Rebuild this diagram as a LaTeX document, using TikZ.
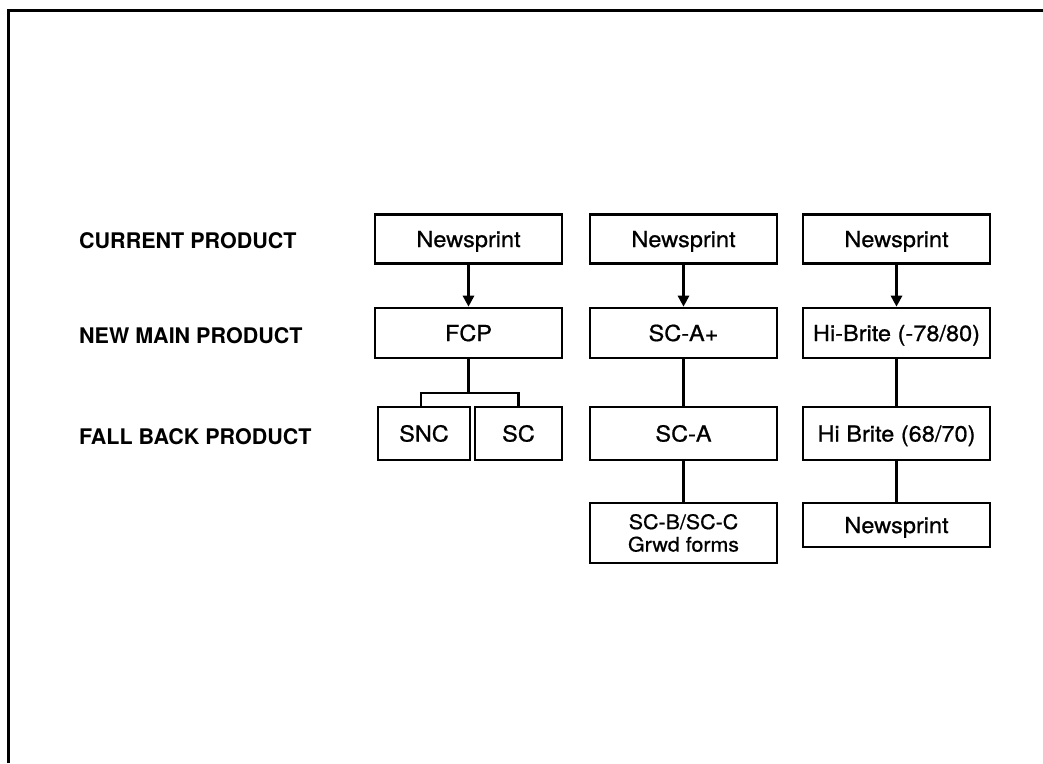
\documentclass[tikz,border=0pt]{standalone}
\usepackage{fontspec}
\setmainfont{TeX Gyre Heros}
\newfontfamily\boxfont[FakeStretch=1.07,FakeBold=0.8]{TeX Gyre Heros}
\usetikzlibrary{arrows.meta}
\begin{document}
\begin{tikzpicture}[x=1pt,y=-1pt,
  prod/.style={draw, line width=2.6pt, inner sep=0pt, minimum width=187pt, minimum height=49pt,
    text height=16pt, text depth=0pt, font=\boxfont\fontsize{22}{24}\selectfont},
  rowlabel/.style={anchor=west, inner sep=0pt, font=\bfseries\fontsize{21.5}{24}\selectfont},
  link/.style={line width=2.7pt},
  feed/.style={line width=2.7pt, -{Triangle[length=11pt,width=11pt]}}]
\useasboundingbox (0,0) rectangle (1043,763);
% outer frame (top and left edges)
\draw[line width=3pt] (8,763) -- (8,10) -- (1043,10);

% row labels
\node[rowlabel] (lcur)  at (79,241)   {CURRENT PRODUCT};
\node[rowlabel] (lnew)  at (79,335.5) {NEW MAIN PRODUCT};
\node[rowlabel] (lfall) at (79,436.5) {FALL BACK PRODUCT};

% first column
\node[prod] (a1) at (468.5,239) {Newsprint};
\node[prod, minimum height=50pt] (a2) at (468.5,333) {FCP};
\node[prod, minimum width=92pt, minimum height=53pt] (a3) at (424,433.5) {SNC};
\node[prod, minimum width=87pt, minimum height=53pt] (a4) at (518.5,433.5) {SC};
\coordinate (abr) at (468.5,393);

% second column
\node[prod] (b1) at (683.5,239) {Newsprint};
\node[prod, minimum height=50pt] (b2) at (683.5,333) {SC-A+};
\node[prod, minimum height=53pt] (b3) at (683.5,433.5) {SC-A};
\node[prod, minimum height=60pt, align=center, text height=, text depth=,
  font=\boxfont\fontsize{20}{22.5}\selectfont] (b4) at (683.5,533) {SC-B/SC-C\\Grwd forms};

% third column
\node[prod] (c1) at (896.5,239) {Newsprint};
\node[prod, minimum height=50pt] (c2) at (896.5,333) {Hi-Brite (-78/80)};
\node[prod, minimum height=53pt] (c3) at (896.5,433.5) {Hi Brite (68/70)};
\node[prod, minimum height=44pt] (c4) at (896.5,525) {Newsprint};

% connectors
\draw[feed] (a1) -- (a2);
\draw[feed] (b1) -- (b2);
\draw[feed] (c1) -- (c2);
\draw[link] (a2.south) -- (abr);
\draw[link] ([xshift=-3pt]a3.north) |- (abr) -| (a4.north);
\draw[link] (b2) -- (b3);
\draw[link] (b3) -- (b4);
\draw[link] (c2) -- (c3);
\draw[link] (c3) -- (c4);
\end{tikzpicture}
\end{document}
